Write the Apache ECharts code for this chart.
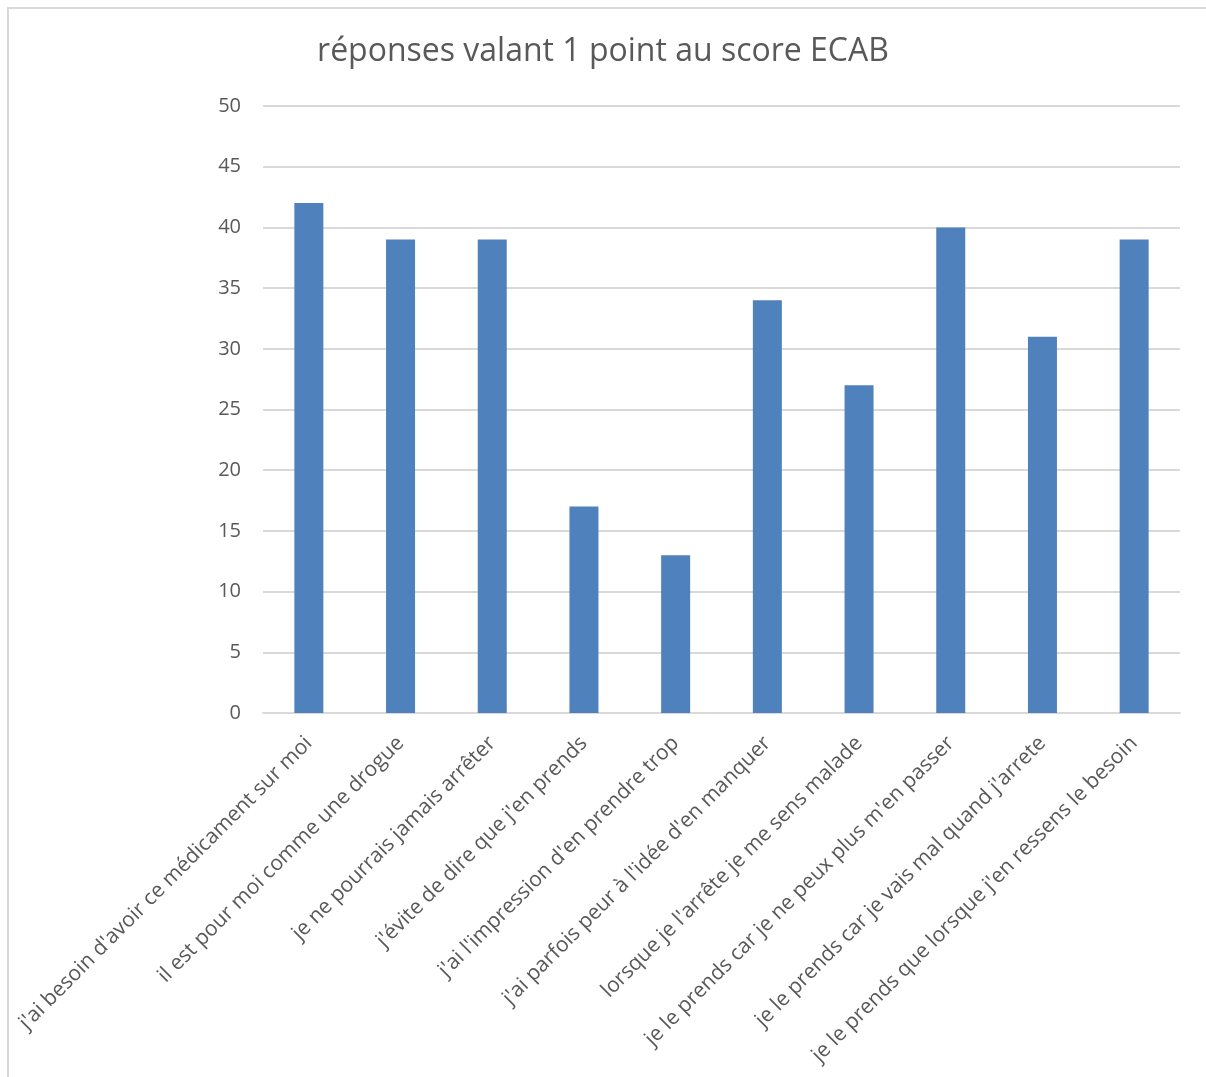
<!DOCTYPE html>
<html>
<head>
<meta charset="utf-8">
<script src="https://cdn.jsdelivr.net/npm/echarts@6/dist/echarts.min.js"></script>
<style>
  html, body { margin: 0; padding: 0; background: #fff; }
  #main { width: 1206px; height: 1077px; }
  #cadre { position: absolute; left: 7px; top: 7px; width: 1199px; height: 1070px;
           border-top: 2px solid #d9d9d9; border-left: 2px solid #d9d9d9; pointer-events: none; }
</style>
</head>
<body>
<div id="main"></div>
<div id="cadre"></div>
<script>
// catégories (axe x) et valeurs (axe y)
var questions = [
  "j'ai besoin d'avoir ce médicament sur moi",
  "il est pour moi comme une drogue",
  "je ne pourrais jamais arrêter",
  "j'évite de dire que j'en prends",
  "j'ai l'impression d'en prendre trop",
  "j'ai parfois peur à l'idée d'en manquer",
  "lorsque je l'arrête je me sens malade",
  "je le prends car je ne peux plus m'en passer",
  "je le prends car je vais mal quand j'arrete",
  "je le prends que lorsque j'en ressens le besoin"
];
var reponses = [42, 39, 39, 17, 13, 34, 27, 40, 31, 39];

var myChart = echarts.init(document.getElementById('main'));

var option = {
  animation: false,
  textStyle: { fontFamily: 'Open Sans' },
  title: {
    text: 'réponses valant 1 point au score ECAB',
    left: 'center',
    top: 31,
    textStyle: { fontSize: 32, fontWeight: 'normal', color: '#595959', fontFamily: 'Open Sans' }
  },
  grid: { left: 263, right: 26, top: 106, bottom: 364 },
  xAxis: {
    type: 'category',
    data: questions,
    axisLine: { lineStyle: { color: '#d9d9d9', width: 2 } },
    axisTick: { show: false },
    axisLabel: {
      interval: 0,
      rotate: 45,
      fontSize: 21,
      color: '#595959',
      margin: 27
    }
  },
  yAxis: {
    type: 'value',
    min: 0,
    max: 50,
    interval: 5,
    axisLine: { show: false },
    axisTick: { show: false },
    axisLabel: { fontSize: 20, color: '#595959', margin: 22 },
    splitLine: { lineStyle: { color: '#d9d9d9', width: 2 } }
  },
  series: [{
    name: 'réponses',
    type: 'bar',
    data: reponses,
    barWidth: 29,
    itemStyle: { color: '#4f81bd' }
  }]
};

myChart.setOption(option);
</script>
</body>
</html>
